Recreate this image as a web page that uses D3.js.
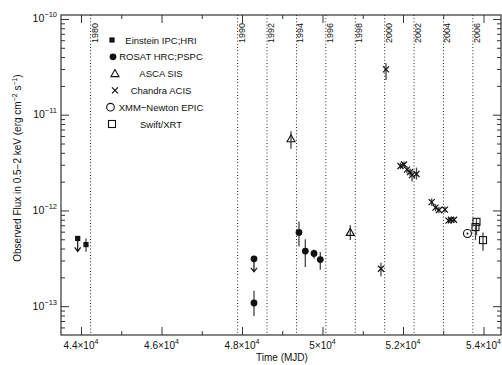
<!DOCTYPE html>
<html><head><meta charset="utf-8">
<script src="https://cdn.jsdelivr.net/npm/d3@7"></script>
<style>
html,body{margin:0;padding:0;background:#fff;}
svg text{font-family:"Liberation Sans",Arial,Helvetica,sans-serif;fill:#111;}
</style></head>
<body><svg id="c" width="502" height="365"></svg>
<script>
// ---------------- data ----------------
const einsteinMJD  = [43918, 44124];
const einsteinFlux = [5.1e-13, 4.4e-13];
const einsteinLo   = [null, 3.7e-13];
const einsteinHi   = [null, 5.1e-13];
const einsteinUL   = [true, false];

const rosatMJD  = [48298, 48298, 49416, 49573, 49789, 49945];
const rosatFlux = [3.12e-13, 1.08e-13, 5.9e-13, 3.76e-13, 3.55e-13, 3.07e-13];
const rosatLo   = [null, 7.9e-14, 4.2e-13, 2.56e-13, 3.15e-13, 2.4e-13];
const rosatHi   = [null, 1.45e-13, 7.6e-13, 5.0e-13, 3.9e-13, 3.67e-13];
const rosatUL   = [true, false, false, false, false, false];

const ascaMJD  = [49217, 50691];
const ascaFlux = [5.6e-12, 5.9e-13];
const ascaLo   = [4.4e-12, 4.9e-13];
const ascaHi   = [6.7e-12, 7.0e-13];

const chandraMJD  = [51453, 51578, 51938, 52025, 52099, 52174, 52224, 52335, 52713, 52807, 52894, 53043, 53130, 53193, 53267];
const chandraFlux = [2.46e-13, 2.98e-11, 2.91e-12, 3.02e-12, 2.67e-12, 2.52e-12, 2.34e-12, 2.40e-12, 1.22e-12, 1.07e-12, 1.01e-12, 1.02e-12, 7.84e-13, 8.0e-13, 8.0e-13];
const chandraLo   = [2.05e-13, 2.3e-11, 2.7e-12, 2.8e-12, 2.45e-12, 2.3e-12, 2.0e-12, 2.1e-12, 1.12e-12, 0.98e-12, 0.94e-12, 0.95e-12, 7.3e-13, 7.4e-13, 7.5e-13];
const chandraHi   = [2.84e-13, 3.45e-11, 3.15e-12, 3.25e-12, 2.9e-12, 2.75e-12, 2.65e-12, 2.8e-12, 1.33e-12, 1.16e-12, 1.09e-12, 1.10e-12, 8.4e-13, 8.6e-13, 8.5e-13];

const xmmMJD  = [53602];
const xmmFlux = [5.75e-13];

const swiftMJD  = [53826, 53801, 53988];
const swiftFlux = [7.6e-13, 6.7e-13, 4.9e-13];
const swiftLo   = [5.5e-13, 4.9e-13, 3.8e-13];
const swiftHi   = [8.2e-13, 7.3e-13, 5.9e-13];

const yearLabels = ["1980","1990","1992","1994","1996","1998","2000","2002","2004","2006"];
const yearMJD    = [44239, 47892, 48622, 49353, 50083, 50814, 51544, 52275, 53005, 53736];

const xMajorTicks = [44000, 46000, 48000, 50000, 52000, 54000];
const xTickMant   = ["4.4", "4.6", "4.8", "5", "5.2", "5.4"];
const xMinorTicks = [45000, 47000, 49000, 51000, 53000];
const yMajorTicks = [1e-10, 1e-11, 1e-12, 1e-13];
const yTickExp    = ["−10", "−11", "−12", "−13"];

const legendNames = ["Einstein IPC;HRI", "ROSAT HRC;PSPC", "ASCA SIS", "Chandra ACIS", "XMM−Newton EPIC", "Swift/XRT"];
const legendSyms  = ["fsquare", "fcircle", "triangle", "cross", "circle", "osquare"];

// ---------------- layout ----------------
const svg = d3.select("#c");
const L = 61, R = 501, T = 15, B = 335;
const x = d3.scaleLinear().domain([43503, 54435]).range([L, R]);
const y = d3.scaleLog().domain([5e-14, 1.1e-10]).range([B, T]);
const ink = "#111", axisCol = "#333";

// minor y ticks
const yMinor = [];
[-14, -13, -12, -11, -10].forEach(e => { for (let k = 2; k <= 9; k++) { const v = k * Math.pow(10, e); if (v > 5.01e-14 && v < 1.1e-10) yMinor.push(v); } });

// year dotted lines
const yrs = svg.append("g");
yearMJD.forEach((m, i) => {
  const xx = x(m);
  yrs.append("line").attr("x1", xx).attr("x2", xx).attr("y1", T).attr("y2", B)
    .attr("stroke", "#222").attr("stroke-width", 1).attr("stroke-dasharray", "1,2.2");
  yrs.append("text").attr("transform", `translate(${xx + 7},43) rotate(-90)`)
    .attr("font-size", 9).attr("text-anchor", "start").text(yearLabels[i]);
});

// axes with inward ticks
function addAxis(gen, tr, vals, size) {
  const g = svg.append("g").attr("transform", tr)
    .call(gen.tickValues(vals).tickSize(size).tickFormat(""));
  g.select(".domain").remove();
  g.selectAll("line").attr("stroke", axisCol).attr("stroke-width", 1);
  return g;
}
addAxis(d3.axisBottom(x), `translate(0,${B})`, xMajorTicks, -8);
addAxis(d3.axisBottom(x), `translate(0,${B})`, xMinorTicks, -4);
addAxis(d3.axisTop(x), `translate(0,${T})`, xMajorTicks, -8);
addAxis(d3.axisTop(x), `translate(0,${T})`, xMinorTicks, -4);
addAxis(d3.axisLeft(y), `translate(${L},0)`, yMajorTicks, -8);
addAxis(d3.axisLeft(y), `translate(${L},0)`, yMinor, -4);
addAxis(d3.axisRight(y), `translate(${R},0)`, yMajorTicks, -8);
addAxis(d3.axisRight(y), `translate(${R},0)`, yMinor, -4);

svg.append("rect").attr("x", L).attr("y", T).attr("width", R - L).attr("height", B - T)
  .attr("fill", "none").attr("stroke", axisCol).attr("stroke-width", 1.2);

// tick labels
yMajorTicks.forEach((v, i) => {
  const t = svg.append("text").attr("x", 57).attr("y", y(v) + 3.5).attr("text-anchor", "end").attr("font-size", 10.5);
  t.append("tspan").text("10");
  t.append("tspan").attr("dy", -5).attr("font-size", 7.5).text(yTickExp[i]);
});
xMajorTicks.forEach((v, i) => {
  const t = svg.append("text").attr("x", x(v)).attr("y", 348.5).attr("text-anchor", "middle").attr("font-size", 10);
  t.append("tspan").text(xTickMant[i] + "×10");
  t.append("tspan").attr("dy", -5).attr("font-size", 7).text("4");
});
svg.append("text").attr("x", 282).attr("y", 361).attr("text-anchor", "middle").attr("font-size", 10).text("Time (MJD)");

const yl = svg.append("text").attr("transform", "translate(21,168) rotate(-90)").attr("text-anchor", "middle").attr("font-size", 10);
yl.append("tspan").text("Observed Flux in 0.5−2 keV (erg cm");
yl.append("tspan").attr("dy", -4).attr("font-size", 7).text("−2");
yl.append("tspan").attr("dy", 4).text(" s");
yl.append("tspan").attr("dy", -4).attr("font-size", 7).text("−1");
yl.append("tspan").attr("dy", 4).text(")");

// ---------------- marks ----------------
const gm = svg.append("g");
function sym(g, type, cx, cy) {
  switch (type) {
    case "fsquare": g.append("rect").attr("x", cx - 2.6).attr("y", cy - 2.6).attr("width", 5.2).attr("height", 5.2).attr("fill", ink); break;
    case "fcircle": g.append("circle").attr("cx", cx).attr("cy", cy).attr("r", 3.4).attr("fill", ink); break;
    case "triangle": g.append("path").attr("d", `M${cx - 4},${cy + 3} L${cx},${cy - 4} L${cx + 4},${cy + 3} Z`).attr("fill", "none").attr("stroke", ink).attr("stroke-width", 1.1); break;
    case "cross": g.append("path").attr("d", `M${cx - 3},${cy - 3} L${cx + 3},${cy + 3} M${cx - 3},${cy + 3} L${cx + 3},${cy - 3}`).attr("stroke", ink).attr("stroke-width", 1.2); break;
    case "circle": g.append("circle").attr("cx", cx).attr("cy", cy).attr("r", 3.8).attr("fill", "none").attr("stroke", ink).attr("stroke-width", 1.1); break;
    case "circdot":
      g.append("circle").attr("cx", cx).attr("cy", cy).attr("r", 4).attr("fill", "none").attr("stroke", ink).attr("stroke-width", 1.1);
      g.append("circle").attr("cx", cx).attr("cy", cy).attr("r", 1).attr("fill", ink); break;
    case "osquare": g.append("rect").attr("x", cx - 3.5).attr("y", cy - 3.5).attr("width", 7).attr("height", 7).attr("fill", "none").attr("stroke", ink).attr("stroke-width", 1.1); break;
  }
}
function series(mjd, flux, lo, hi, ul, type) {
  mjd.forEach((m, i) => {
    const cx = x(m), cy = y(flux[i]);
    if (lo && lo[i] != null) {
      gm.append("line").attr("x1", cx).attr("x2", cx).attr("y1", y(lo[i])).attr("y2", y(hi[i]))
        .attr("stroke", "#444").attr("stroke-width", 1.3);
    }
    if (ul && ul[i]) {
      gm.append("path").attr("d", `M${cx},${cy} L${cx},${cy + 13} M${cx - 3},${cy + 9} L${cx},${cy + 13} L${cx + 3},${cy + 9}`)
        .attr("fill", "none").attr("stroke", ink).attr("stroke-width", 1.2);
    }
    sym(gm, type, cx, cy);
  });
}
series(einsteinMJD, einsteinFlux, einsteinLo, einsteinHi, einsteinUL, "fsquare");
series(rosatMJD, rosatFlux, rosatLo, rosatHi, rosatUL, "fcircle");
series(ascaMJD, ascaFlux, ascaLo, ascaHi, null, "triangle");
series(chandraMJD, chandraFlux, chandraLo, chandraHi, null, "cross");
series(xmmMJD, xmmFlux, null, null, null, "circdot");
series(swiftMJD, swiftFlux, swiftLo, swiftHi, null, "osquare");

// ---------------- legend ----------------
const symX = [112, 113, 115, 115, 110.5, 112];
legendNames.forEach((n, i) => {
  const ly = 40 + i * 16.8;
  sym(svg, legendSyms[i], symX[i], ly);
  svg.append("text").attr("x", 161).attr("y", ly + 3.5).attr("text-anchor", "middle").attr("font-size", 9.5).text(n);
});
</script></body></html>
